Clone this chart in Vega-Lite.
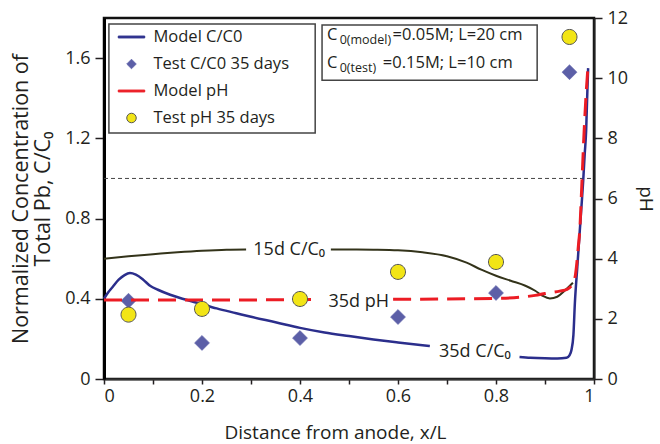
{
  "$schema": "https://vega.github.io/schema/vega-lite/v6.json",
  "width": 490,
  "height": 361,
  "autosize": "none",
  "padding": {"left": 104, "top": 18, "right": 66, "bottom": 65},
  "background": "white",
  "config": {
    "font": "Open Sans",
    "view": {"stroke": "#111111", "strokeWidth": 2.5},
    "axis": {
      "grid": false,
      "labelFont": "Open Sans",
      "titleFont": "Open Sans",
      "labelFontSize": 18,
      "titleFontSize": 19,
      "titleFontWeight": "normal",
      "labelColor": "#231f20",
      "titleColor": "#231f20",
      "domainColor": "#231f20",
      "tickColor": "#231f20"
    },
    "legend": {
      "orient": "none", "legendX": 13.5, "legendY": 5, "padding": 0,
      "symbolSize": 700, "symbolStrokeWidth": 1, "symbolOpacity": 1,
      "labelFontSize": 16.5, "labelFont": "Open Sans",
      "labelColor": "#231f20", "labelOffset": 8, "rowPadding": 4, "labelLimit": 300
    }
  },
  "datasets": {
    "c35": [
      {"x": 0, "c": 0.40, "seg": 1}, {"x": 0.008, "c": 0.43, "seg": 1}, {"x": 0.018, "c": 0.46, "seg": 1},
      {"x": 0.03, "c": 0.495, "seg": 1}, {"x": 0.042, "c": 0.518, "seg": 1}, {"x": 0.053, "c": 0.528, "seg": 1},
      {"x": 0.065, "c": 0.52, "seg": 1}, {"x": 0.08, "c": 0.495, "seg": 1}, {"x": 0.094, "c": 0.465, "seg": 1},
      {"x": 0.11, "c": 0.445, "seg": 1}, {"x": 0.135, "c": 0.42, "seg": 1}, {"x": 0.16, "c": 0.40, "seg": 1},
      {"x": 0.19, "c": 0.38, "seg": 1}, {"x": 0.23, "c": 0.352, "seg": 1}, {"x": 0.27, "c": 0.328, "seg": 1},
      {"x": 0.30, "c": 0.31, "seg": 1}, {"x": 0.35, "c": 0.283, "seg": 1}, {"x": 0.40, "c": 0.255, "seg": 1},
      {"x": 0.45, "c": 0.232, "seg": 1}, {"x": 0.50, "c": 0.214, "seg": 1}, {"x": 0.55, "c": 0.197, "seg": 1},
      {"x": 0.60, "c": 0.182, "seg": 1}, {"x": 0.65, "c": 0.168, "seg": 1}, {"x": 0.665, "c": 0.164, "seg": 1},
      {"x": 0.848, "c": 0.11, "seg": 2}, {"x": 0.87, "c": 0.106, "seg": 2}, {"x": 0.90, "c": 0.103, "seg": 2},
      {"x": 0.925, "c": 0.102, "seg": 2}, {"x": 0.944, "c": 0.106, "seg": 2}, {"x": 0.95, "c": 0.118, "seg": 2},
      {"x": 0.954, "c": 0.145, "seg": 2}, {"x": 0.958, "c": 0.22, "seg": 2}, {"x": 0.961, "c": 0.38, "seg": 2},
      {"x": 0.966, "c": 0.56, "seg": 2}, {"x": 0.971, "c": 0.74, "seg": 2}, {"x": 0.975, "c": 0.88, "seg": 2},
      {"x": 0.978, "c": 0.99, "seg": 2}, {"x": 0.981, "c": 1.12, "seg": 2}, {"x": 0.984, "c": 1.24, "seg": 2},
      {"x": 0.986, "c": 1.40, "seg": 2}, {"x": 0.988, "c": 1.55, "seg": 2}
    ],
    "c15": [
      {"x": 0, "c": 0.60, "seg": 1}, {"x": 0.05, "c": 0.612, "seg": 1}, {"x": 0.10, "c": 0.622, "seg": 1},
      {"x": 0.15, "c": 0.632, "seg": 1}, {"x": 0.20, "c": 0.64, "seg": 1}, {"x": 0.25, "c": 0.645, "seg": 1},
      {"x": 0.29, "c": 0.646, "seg": 1},
      {"x": 0.463, "c": 0.646, "seg": 2}, {"x": 0.50, "c": 0.646, "seg": 2}, {"x": 0.55, "c": 0.645, "seg": 2},
      {"x": 0.60, "c": 0.642, "seg": 2}, {"x": 0.65, "c": 0.632, "seg": 2}, {"x": 0.70, "c": 0.612, "seg": 2},
      {"x": 0.74, "c": 0.58, "seg": 2}, {"x": 0.77, "c": 0.545, "seg": 2}, {"x": 0.80, "c": 0.515, "seg": 2},
      {"x": 0.83, "c": 0.49, "seg": 2}, {"x": 0.86, "c": 0.465, "seg": 2}, {"x": 0.88, "c": 0.44, "seg": 2},
      {"x": 0.895, "c": 0.415, "seg": 2}, {"x": 0.91, "c": 0.402, "seg": 2}, {"x": 0.925, "c": 0.41, "seg": 2},
      {"x": 0.94, "c": 0.44, "seg": 2}, {"x": 0.957, "c": 0.48, "seg": 2}
    ],
    "ph": [
      {"x": 0, "ph": 2.63, "seg": 1}, {"x": 0.1, "ph": 2.63, "seg": 1}, {"x": 0.2, "ph": 2.63, "seg": 1},
      {"x": 0.3, "ph": 2.63, "seg": 1}, {"x": 0.43, "ph": 2.64, "seg": 1},
      {"x": 0.59, "ph": 2.65, "seg": 2}, {"x": 0.70, "ph": 2.66, "seg": 2}, {"x": 0.80, "ph": 2.68, "seg": 2},
      {"x": 0.85, "ph": 2.72, "seg": 2}, {"x": 0.88, "ph": 2.78, "seg": 2}, {"x": 0.90, "ph": 2.84, "seg": 2},
      {"x": 0.93, "ph": 2.92, "seg": 2}, {"x": 0.945, "ph": 2.98, "seg": 2}, {"x": 0.957, "ph": 3.19, "seg": 2},
      {"x": 0.962, "ph": 3.45, "seg": 2}, {"x": 0.965, "ph": 3.86, "seg": 2}, {"x": 0.968, "ph": 4.4, "seg": 2},
      {"x": 0.971, "ph": 4.95, "seg": 2}, {"x": 0.975, "ph": 6.4, "seg": 2}, {"x": 0.98, "ph": 8.28, "seg": 2},
      {"x": 0.984, "ph": 9.5, "seg": 2}, {"x": 0.988, "ph": 10.44, "seg": 2}
    ],
    "testc": [
      {"x": 0.05, "c": 0.39, "series": "Test C/C0 35 days"},
      {"x": 0.2, "c": 0.18, "series": "Test C/C0 35 days"},
      {"x": 0.4, "c": 0.204, "series": "Test C/C0 35 days"},
      {"x": 0.6, "c": 0.309, "series": "Test C/C0 35 days"},
      {"x": 0.8, "c": 0.429, "series": "Test C/C0 35 days"},
      {"x": 0.95, "c": 1.53, "series": "Test C/C0 35 days"}
    ],
    "testph": [
      {"x": 0.05, "ph": 2.14, "series": "Test pH 35 days"},
      {"x": 0.2, "ph": 2.33, "series": "Test pH 35 days"},
      {"x": 0.4, "ph": 2.66, "series": "Test pH 35 days"},
      {"x": 0.6, "ph": 3.56, "series": "Test pH 35 days"},
      {"x": 0.8, "ph": 3.89, "series": "Test pH 35 days"},
      {"x": 0.95, "ph": 11.37, "series": "Test pH 35 days"}
    ],
    "boxes": [
      {"x": 0.01, "x2": 0.431, "c": 1.77, "c2": 1.226},
      {"x": 0.445, "x2": 0.884, "c": 1.765, "c2": 1.49}
    ],
    "refline": [
      {"x": 0, "x2": 1, "c": 1.0}
    ],
    "labc": [
      {"x": 0.378, "c": 0.643, "t": "15d C/C₀"},
      {"x": 0.757, "c": 0.135, "t": "35d C/C₀"}
    ],
    "labph": [
      {"x": 0.52, "ph": 2.56, "t": "35d pH"}
    ],
    "annobig": [
      {"x": 0.455, "c": 1.715, "t": "C"},
      {"x": 0.589, "c": 1.715, "t": "=0.05M; L=20 cm"},
      {"x": 0.455, "c": 1.575, "t": "C"},
      {"x": 0.569, "c": 1.575, "t": "=0.15M; L=10 cm"}
    ],
    "annosub": [
      {"x": 0.481, "c": 1.715, "t": "0(model)"},
      {"x": 0.481, "c": 1.575, "t": "0(test)"}
    ]
  },
  "encoding": {
    "x": {
      "field": "x",
      "type": "quantitative",
      "title": "Distance from anode, x/L",
      "scale": {"domain": [0, 1], "nice": false, "zero": false},
      "axis": {
        "values": [0, 0.1, 0.2, 0.3, 0.4, 0.5, 0.6, 0.7, 0.8, 0.9, 1],
        "labelExpr": "round(datum.value*10) % 2 === 0 ? format(datum.value, '~g') : ''",
        "domainWidth": 2,
        "domainColor": "#333333",
        "tickWidth": 1.5,
        "tickSize": 5,
        "labelPadding": 3,
        "titleX": 231,
        "titleY": 59,
        "titleBaseline": "alphabetic"
      }
    }
  },
  "layer": [
    {
      "encoding": {
        "y": {
          "field": "c",
          "type": "quantitative",
          "title": ["Normalized Concentration of", "Total Pb, C/C₀"],
          "scale": {"domain": [0, 1.8], "nice": false, "zero": false},
          "axis": {
            "values": [0, 0.4, 0.8, 1.2, 1.6],
            "format": "~g",
            "domainWidth": 3,
            "domainColor": "#000000",
            "tickSize": 9,
            "tickWidth": 1.5,
            "labelPadding": 5,
            "titleFontSize": 21.5,
            "titleLineHeight": 22,
            "titlePadding": 10
          }
        }
      },
      "layer": [
        {
          "data": {"name": "boxes"},
          "mark": {"type": "rect", "fill": "white", "stroke": "#444444", "strokeWidth": 1.5},
          "encoding": {
            "x2": {"field": "x2"},
            "y2": {"field": "c2"}
          }
        },
        {
          "data": {"name": "refline"},
          "mark": {"type": "rule", "color": "#444444", "strokeWidth": 1, "strokeDash": [4, 3]},
          "encoding": {"x2": {"field": "x2"}}
        },
        {
          "data": {"name": "c15"},
          "mark": {"type": "line", "color": "#33331a", "strokeWidth": 2, "interpolate": "monotone"},
          "encoding": {"detail": {"field": "seg", "type": "nominal"}}
        },
        {
          "data": {"name": "c35"},
          "mark": {"type": "line", "color": "#2b2e8c", "strokeWidth": 2.5, "interpolate": "monotone"},
          "encoding": {"detail": {"field": "seg", "type": "nominal"}}
        },
        {
          "data": {"name": "testc"},
          "mark": {"type": "point", "filled": true, "opacity": 1, "size": 1740, "strokeWidth": 0.6},
          "encoding": {
            "color": {
              "field": "series", "type": "nominal", "legend": {"title": null},
              "scale": {
                "domain": ["Model C/C0", "Test C/C0 35 days", "Model pH", "Test pH 35 days"],
                "range": ["#2b2e8c", "#5c5fa7", "#ec1c24", "#f2e516"]
              }
            },
            "shape": {
              "field": "series", "type": "nominal", "legend": {"title": null},
              "scale": {
                "domain": ["Model C/C0", "Test C/C0 35 days", "Model pH", "Test pH 35 days"],
                "range": [
                  "M-1,-0.07L1,-0.07L1,0.07L-1,0.07Z",
                  "M-0.36,0L0,-0.36L0.36,0L0,0.36Z",
                  "M-1,-0.07L1,-0.07L1,0.07L-1,0.07Z",
                  "M0.36,0C0.36,0.1988,0.1988,0.36,0,0.36C-0.1988,0.36,-0.36,0.1988,-0.36,0C-0.36,-0.1988,-0.1988,-0.36,0,-0.36C0.1988,-0.36,0.36,-0.1988,0.36,0Z"
                ]
              }
            },
            "stroke": {
              "field": "series", "type": "nominal", "legend": {"title": null},
              "scale": {
                "domain": ["Model C/C0", "Test C/C0 35 days", "Model pH", "Test pH 35 days"],
                "range": ["#2b2e8c", "#6a6db0", "#ec1c24", "#555555"]
              }
            }
          }
        },
        {
          "data": {"name": "labc"},
          "mark": {"type": "text", "fontSize": 18, "color": "#231f20", "align": "center", "baseline": "middle"},
          "encoding": {"text": {"field": "t"}}
        },
        {
          "data": {"name": "annobig"},
          "mark": {"type": "text", "fontSize": 16.5, "color": "#231f20", "align": "left", "baseline": "middle"},
          "encoding": {"text": {"field": "t"}}
        },
        {
          "data": {"name": "annosub"},
          "mark": {"type": "text", "fontSize": 12.5, "color": "#231f20", "align": "left", "baseline": "middle", "dy": 5},
          "encoding": {"text": {"field": "t"}}
        }
      ]
    },
    {
      "encoding": {
        "y": {
          "field": "ph",
          "type": "quantitative",
          "title": "pH",
          "scale": {"domain": [0, 12], "nice": false, "zero": false},
          "axis": {
            "orient": "right",
            "values": [0, 2, 4, 6, 8, 10, 12],
            "domainWidth": 2,
            "domainColor": "#222222",
            "tickSize": 8,
            "tickWidth": 1.5,
            "labelPadding": 5,
            "titlePadding": 8
          }
        }
      },
      "layer": [
        {
          "data": {"name": "ph"},
          "mark": {"type": "line", "color": "#ec1c24", "strokeWidth": 3, "strokeDash": [18, 9], "interpolate": "monotone"},
          "encoding": {"detail": {"field": "seg", "type": "nominal"}}
        },
        {
          "data": {"name": "testph"},
          "mark": {"type": "point", "filled": true, "opacity": 1, "size": 1740, "strokeWidth": 1},
          "encoding": {
            "color": {"field": "series", "type": "nominal", "legend": {"title": null}},
            "shape": {"field": "series", "type": "nominal", "legend": {"title": null}},
            "stroke": {"field": "series", "type": "nominal", "legend": {"title": null}}
          }
        },
        {
          "data": {"name": "labph"},
          "mark": {"type": "text", "fontSize": 18, "color": "#231f20", "align": "center", "baseline": "middle"},
          "encoding": {"text": {"field": "t"}}
        }
      ]
    }
  ],
  "resolve": {"scale": {"y": "independent"}, "axis": {"y": "independent"}}
}
